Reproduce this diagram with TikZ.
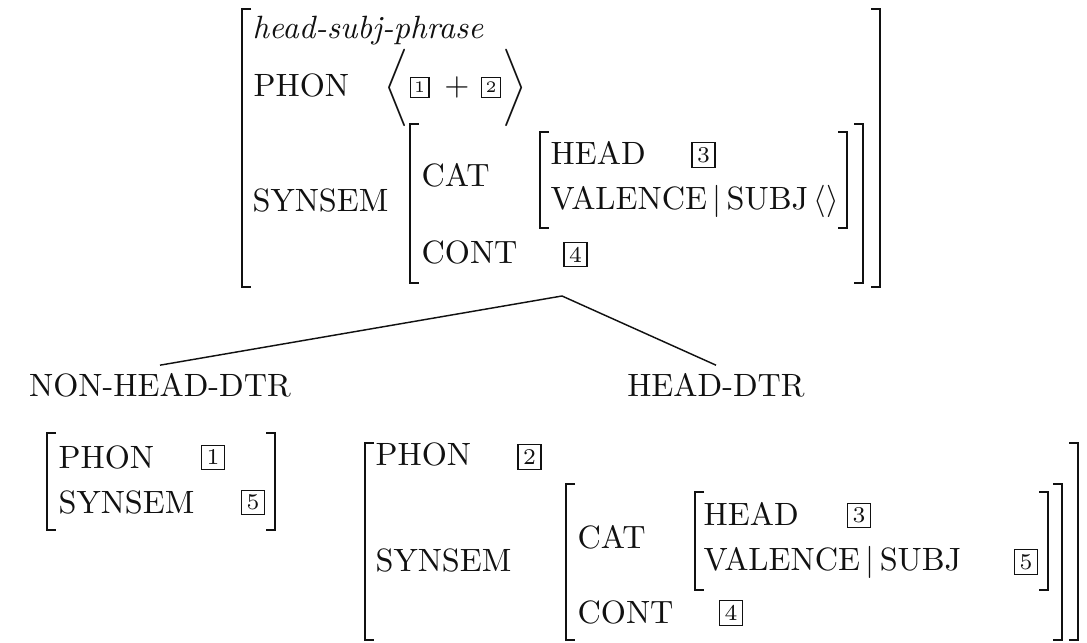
\documentclass[tikz,border=0pt]{standalone}
\usepackage{amsmath}
\definecolor{ink}{HTML}{111111}

% square bracket of an AVM: x, top y, bottom y (pixel grid, y runs down)
\newcommand{\avmopen}[3]{\draw[brk] ({#1+9},#2) -- (#1,#2) -- (#1,#3) -- ({#1+9},#3);}
\newcommand{\avmclose}[3]{\draw[brk] ({#1-9},#2) -- (#1,#2) -- (#1,#3) -- ({#1-9},#3);}

\begin{document}
\begin{tikzpicture}[x=0.31pt, y=-0.31pt,
    every node/.style={text=ink},
    brk/.style={ink, line width=0.6pt},
    attr/.style={anchor=base west, inner sep=0pt},
    delim/.style={inner sep=0pt},
    tag/.style={draw=ink, line width=0.4pt, inner sep=0pt, minimum width=7.2pt, minimum height=7.6pt, font=\scriptsize},
    stag/.style={tag, minimum width=5.8pt, minimum height=6.2pt, font=\tiny},
    dtr/.style={anchor=base, inner sep=2.5pt},
    branch/.style={ink, line width=0.45pt}
]

% ---------------- canvas 1087 x 643, white ----------------
\fill[white] (0,0) rectangle (1087,643);
\useasboundingbox (0,0) rectangle (1087,643);

% ================= mother: head-subj-phrase =================
\foreach \l/\r/\t/\b in {242/880/9/287, 410/863/124/283, 540/847/132/228} {
    \avmopen{\l}{\t}{\b}
    \avmclose{\r}{\t}{\b}
}
\node[attr, font=\itshape] (mtype) at (252,39) {head-subj-phrase};
\node[attr] (mphon) at (253,97) {PHON};
\node[delim] (mlang) at (397,88) {$\bigg\langle$};
\node[stag] (mtagA) at (419.5,87.5) {1};
\node[delim] (mplus) at (457,87) {$+$};
\node[stag] (mtagB) at (491,87.5) {2};
\node[delim] (mrang) at (515,88) {$\bigg\rangle$};

\node[attr] (msyn) at (252,212) {SYNSEM};
\node[attr] (mcat) at (421,187) {CAT};
\node[attr] (mhead) at (550,165) {HEAD};
\node[tag] (mtagC) at (703.5,155) {3};
\node[attr] (mval) at (550,210) {VALENCE$\,|\,$SUBJ$\,\langle\rangle$};
\node[attr] (mcont) at (421,264) {CONT};
\node[tag] (mtagD) at (575.5,254.5) {4};

% ================= daughters =================
\coordinate (apex) at (562,296);
\node[dtr] (nhd) at (160,397) {NON-HEAD-DTR};
\node[dtr] (hd) at (716,397) {HEAD-DTR};
\draw[branch] (nhd.north) -- (apex) -- (hd.north);

% non-head daughter
\avmopen{47}{433}{530}
\avmclose{275}{433}{530}
\node[attr] (nphon) at (58,469) {PHON};
\node[tag] (ntagA) at (213,457.5) {1};
\node[attr] (nsyn) at (58,514) {SYNSEM};
\node[tag] (ntagE) at (253,502.5) {5};

% head daughter
\foreach \l/\r/\t/\b in {365/1078/443/640, 566/1062/484/640, 695/1048/492/590} {
    \avmopen{\l}{\t}{\b}
    \avmclose{\r}{\t}{\b}
}
\node[attr] (hphon) at (375,466) {PHON};
\node[tag] (htagB) at (529.5,457) {2};
\node[attr] (hsyn) at (375,572) {SYNSEM};
\node[attr] (hcat) at (577,549) {CAT};
\node[attr] (hhead) at (703,526) {HEAD};
\node[tag] (htagC) at (859,515.5) {3};
\node[attr] (hval) at (703,571) {VALENCE$\,|\,$SUBJ};
\node[tag] (htagE) at (1026,562) {5};
\node[attr] (hcont) at (577,624) {CONT};
\node[tag] (htagD) at (731,613) {4};

\end{tikzpicture}
\end{document}
